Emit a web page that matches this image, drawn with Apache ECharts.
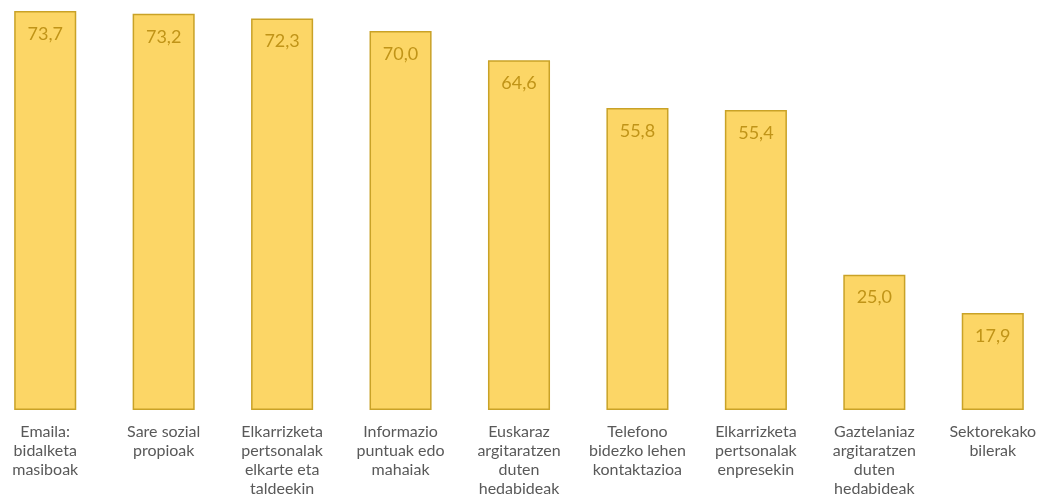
<!DOCTYPE html>
<html><head><meta charset="utf-8">
<script src="https://cdn.jsdelivr.net/npm/echarts@6/dist/echarts.min.js"></script>
<style>html,body{margin:0;padding:0;background:#fff;overflow:hidden}#c{width:1066px;height:500px;margin-left:-14px}</style>
</head><body><div id="c"></div>
<script>
const categories = [
  "Emaila:\nbidalketa\nmasiboak",
  "Sare sozial\npropioak",
  "Elkarrizketa\npertsonalak\nelkarte eta\ntaldeekin",
  "Informazio\npuntuak edo\nmahaiak",
  "Euskaraz\nargitaratzen\nduten\nhedabideak",
  "Telefono\nbidezko lehen\nkontaktazioa",
  "Elkarrizketa\npertsonalak\nenpresekin",
  "Gaztelaniaz\nargitaratzen\nduten\nhedabideak",
  "Sektorekako\nbilerak"
];
const values = [73.7, 73.2, 72.3, 70.0, 64.6, 55.8, 55.4, 25.0, 17.9];

const chart = echarts.init(document.getElementById('c'));
chart.setOption({
  animation: false,
  grid: {left: 0, right: 0, top: 4, bottom: 90, containLabel: false},
  xAxis: {
    type: 'category', data: categories,
    axisLine: {show: false}, axisTick: {show: false},
    axisLabel: {color: '#595959', fontSize: 16, lineHeight: 19, margin: 12,
      fontFamily: 'Lato, "Noto Sans", sans-serif', interval: 0}
  },
  yAxis: {type: 'value', min: 0, max: 75, show: false, splitLine: {show: false}},
  series: [{
    type: 'bar', data: values, barCategoryGap: '47.6%',
    itemStyle: {color: '#FCD666', borderColor: '#C9A227', borderWidth: 1.5},
    label: {show: true, position: 'insideTop', distance: 14, color: '#C09418',
      fontSize: 18, fontFamily: 'Lato, "Noto Sans", sans-serif',
      formatter: p => p.value.toFixed(1).replace('.', ',')}
  }]
});
</script></body></html>
